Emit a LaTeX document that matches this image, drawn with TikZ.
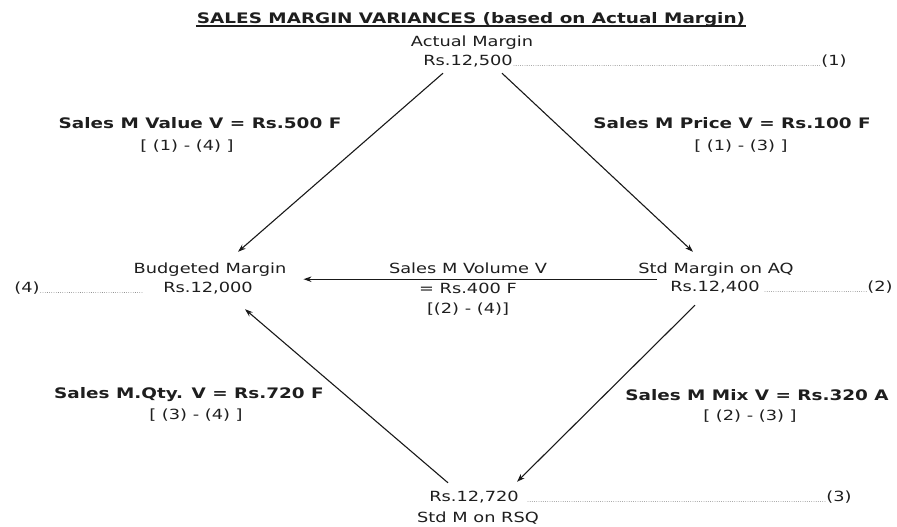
\documentclass[tikz,border=0pt]{standalone}
\usepackage{fontspec}
\setmainfont{DejaVu Sans}[FakeStretch=1.27]
\usepackage{tikz}
\usetikzlibrary{arrows.meta}
\definecolor{inkgray}{RGB}{30,30,30}
\definecolor{leadgray}{RGB}{120,120,120}

\begin{document}
\begin{tikzpicture}[x=1pt,y=-1pt,
    every node/.style={inner sep=1pt,text height=10pt,text depth=3pt,text=inkgray,font=\fontsize{14}{16}\selectfont},
    lbl/.style={font=\fontsize{14.5}{16}\selectfont\bfseries},
    arr/.style={draw=black!90,line width=1.1pt,-{Stealth[length=8pt,width=5.5pt]}},
    leader/.style={draw=leadgray,line width=0.8pt,line cap=round,dash pattern=on 0pt off 2.2pt}]
  \useasboundingbox (0,0) rectangle (897,527);
  \node[lbl] (title) at (471,20) {SALES MARGIN VARIANCES (based on Actual Margin)};
  \draw[inkgray,line width=1.4pt] ([yshift=-2.5pt]title.base west) -- ([yshift=-2.5pt]title.base east);
  \node (am) at (472,43) {Actual Margin};
  \node (v1) at (468,62) {Rs.12,500};
  \node (n1) at (834,62) {(1)};
  \node (bm) at (210,270) {Budgeted Margin};
  \node (v4) at (208,289) {Rs.12,000};
  \node (n4) at (27,289) {(4)};
  \node (sm) at (716,270) {Std Margin on AQ};
  \node (v2) at (715,288) {Rs.12,400};
  \node (n2) at (880,288) {(2)};
  \node (v3) at (474,498) {Rs.12,720};
  \node (rsq) at (478,519) {Std M on RSQ};
  \node (n3) at (839,498) {(3)};
  \draw[leader] (v1.base east) -- (n1.base west);
  \draw[leader] (n4.base east) -- ([xshift=-20pt]v4.base west);
  \draw[leader] ([xshift=4pt]v2.base east) -- (n2.base west);
  \draw[leader] ([xshift=8pt]v3.base east) -- (n3.base west);
  \node[lbl] (valv) at (200,125) {Sales M Value V = Rs.500 F};
  \node (valf) at (187,147) {[ (1) - (4) ]};
  \node[lbl] (prcv) at (732,125) {Sales M Price V = Rs.100 F};
  \node (prcf) at (741,147) {[ (1) - (3) ]};
  \node (volv) at (468,270) {Sales M Volume V};
  \node (vola) at (468,290) {= Rs.400 F};
  \node (volf) at (468,310) {[(2) - (4)]};
  \node[lbl] (qtyv) at (189,395) {Sales M.Qty. V = Rs.720 F};
  \node (qtyf) at (196,416) {[ (3) - (4) ]};
  \node[lbl] (mixv) at (757,397) {Sales M Mix V = Rs.320 A};
  \node (mixf) at (750,417) {[ (2) - (3) ]};
  \draw[arr] ([xshift=-25pt,yshift=-3.5pt]v1.south) -- ([xshift=28pt,yshift=10.5pt]bm.north);
  \draw[arr] ([xshift=34pt,yshift=-3.5pt]v1.south) -- ([xshift=-23pt,yshift=10.5pt]sm.north);
  \draw[arr] ([xshift=20pt,yshift=-1.5pt]sm.south west) -- ([xshift=16pt,yshift=-1.5pt]bm.south east);
  \draw[arr] ([xshift=-20pt,yshift=-9.5pt]v2.south) -- ([xshift=43pt,yshift=8.5pt]v3.north);
  \draw[arr] ([xshift=-26pt,yshift=7.5pt]v3.north) -- ([xshift=37pt,yshift=-12.5pt]v4.south);
\end{tikzpicture}
\end{document}
